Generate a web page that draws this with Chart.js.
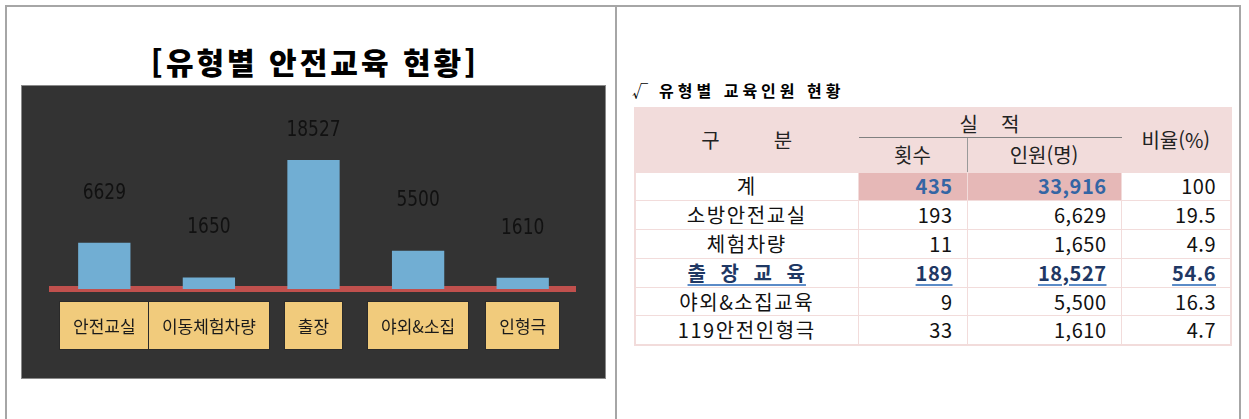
<!DOCTYPE html>
<html lang="ko"><head><meta charset="utf-8">
<script src="https://cdn.jsdelivr.net/npm/chart.js@4.4.1/dist/chart.umd.min.js"></script>
<style>
html,body{margin:0;padding:0;background:#fff;width:1249px;height:419px;overflow:hidden;font-family:"Noto Sans CJK KR",sans-serif;}
#frame{position:absolute;left:5px;top:5px;width:1236px;height:500px;border:2px solid #a6a6a6;box-sizing:border-box;}
#divider{position:absolute;left:615px;top:5px;width:2px;height:420px;background:#a6a6a6;}
#title{position:absolute;left:0;top:42px;width:630px;text-align:center;font-size:30px;font-weight:900;letter-spacing:3px;line-height:38px;color:#000;white-space:nowrap;}
#panel{position:absolute;left:21px;top:85px;width:583px;height:292px;border:1px solid #8a8a8a;background:#333;}
#panel canvas{display:block;}
#subtitle{position:absolute;left:632px;top:79px;font-size:16px;font-weight:700;letter-spacing:4px;line-height:22px;color:#000;white-space:nowrap;}
#subtitle .chk{font-weight:400;letter-spacing:0;margin-right:11px;}
table{position:absolute;left:634px;top:107px;width:596px;border-collapse:collapse;table-layout:fixed;font-size:20px;color:#111;border:2px solid #F2DCDB;}
td,th{padding:0;font-weight:400;line-height:26px;border:1px solid #F2DCDB;white-space:nowrap;overflow:hidden;}
thead th{background:#F2DCDB;text-align:center;color:#222;}
thead tr.h1{height:29px;}
thead tr.h2{height:35px;}
th.sj{border-bottom:1px solid #808080;vertical-align:bottom;}
th.cnt{border-right:1px solid #9a9a9a;}
tbody tr{height:28.8px;}
td.lab{text-align:center;letter-spacing:1.6px;}
td.num{text-align:right;padding-right:14px;letter-spacing:0.5px;}
tr.total td.pk{background:#E6B8B7;color:#3465A4;font-weight:700;}
tr.hl td{color:#1F3864;font-weight:700;}
tr.hl td span{text-decoration:underline;text-decoration-color:#5B8BC7;text-decoration-thickness:2px;text-underline-offset:3px;}
tr.hl td.lab span{word-spacing:7px;letter-spacing:1px;}
.sp{display:inline-block;}
</style></head>
<body>
<div id="frame"></div>
<div id="divider"></div>
<div id="title">[유형별 안전교육 현황]</div>
<div id="panel"><canvas id="c" width="583" height="292"></canvas></div>
<div id="subtitle"><span class="chk">√</span>유형별 교육인원 현황</div>
<table>
<colgroup><col style="width:223px"><col style="width:109px"><col style="width:154px"><col style="width:110px"></colgroup>
<thead>
<tr class="h1"><th rowspan="2">구<span class="sp" style="width:54px"></span>분</th><th colspan="2" class="sj">실<span class="sp" style="width:23px"></span>적</th><th rowspan="2">비율(%)</th></tr>
<tr class="h2"><th class="cnt">횟수</th><th>인원(명)</th></tr>
</thead>
<tbody id="tb"></tbody>
</table>
<script>
// ---- chart data ----
const categories = ['안전교실', '이동체험차량', '출장', '야외&소집', '인형극'];
const values = [6629, 1650, 18527, 5500, 1610];

// ---- table data ----
const rowLabels = ['계', '소방안전교실', '체험차량', '출 장 교 육', '야외&소집교육', '119안전인형극'];
const sessions = [435, 193, 11, 189, 9, 33];
const people = [33916, 6629, 1650, 18527, 5500, 1610];
const ratios = ['100', '19.5', '4.9', '54.6', '16.3', '4.7'];

const TOTAL_ROW = 0, HIGHLIGHT_ROW = 3;
const tb = document.getElementById('tb');
rowLabels.forEach((lab, i) => {
  const tr = document.createElement('tr');
  if (i === TOTAL_ROW) tr.className = 'total';
  if (i === HIGHLIGHT_ROW) tr.className = 'hl';
  const cells = [
    ['lab', lab],
    ['num pk', sessions[i].toLocaleString('en-US')],
    ['num pk', people[i].toLocaleString('en-US')],
    ['num', ratios[i]]
  ];
  cells.forEach(([cls, txt]) => {
    const td = document.createElement('td');
    td.className = (i === TOTAL_ROW) ? cls : cls.replace(' pk', '');
    const sp = document.createElement('span');
    sp.textContent = txt;
    td.appendChild(sp);
    tr.appendChild(td);
  });
  tb.appendChild(tr);
});

// ---- plugins ----
const valueLabels = {
  id: 'valueLabels',
  afterDatasetsDraw(chart) {
    const ctx = chart.ctx;
    const meta = chart.getDatasetMeta(0);
    const top = chart.chartArea.top;
    ctx.save();
    ctx.font = '22px "Liberation Sans Narrow", "DejaVu Sans Condensed", sans-serif';
    ctx.fillStyle = '#111';
    ctx.textAlign = 'center';
    ctx.textBaseline = 'middle';
    const sx = 0.86;
    meta.data.forEach((bar, i) => {
      const y = Math.max(bar.y - 50, top + 15);
      ctx.save();
      ctx.translate(bar.x, y);
      ctx.scale(sx, 1);
      ctx.fillText(String(chart.data.datasets[0].data[i]), 0, 0);
      ctx.restore();
    });
    ctx.restore();
  }
};
const categoryBoxes = {
  id: 'categoryBoxes',
  afterDraw(chart) {
    const ctx = chart.ctx;
    const xs = chart.scales.x;
    const base = chart.chartArea.bottom;
    ctx.save();
    ctx.font = '17px "Noto Sans CJK KR", sans-serif';
    ctx.textAlign = 'center';
    ctx.textBaseline = 'middle';
    chart.data.labels.forEach((lab, i) => {
      const x = xs.getPixelForValue(i);
      const w = Math.round(ctx.measureText(lab).width + 26);
      const x0 = Math.round(x - w / 2);
      const y0 = base + 13, h = 47;
      ctx.strokeStyle = '#2a2a2a';
      ctx.lineWidth = 1;
      ctx.strokeRect(x0 - 0.5, y0 - 0.5, w + 1, h + 1);
      ctx.fillStyle = '#F1CB7C';
      ctx.fillRect(x0, y0, w, h);
      ctx.fillStyle = '#1a1a1a';
      ctx.fillText(lab, x, y0 + h / 2 + 1);
    });
    ctx.restore();
  }
};

new Chart(document.getElementById('c'), {
  type: 'bar',
  data: {
    labels: categories,
    datasets: [{ data: values, backgroundColor: '#71AED3', borderWidth: 0, barPercentage: 0.5, categoryPercentage: 1.0 }]
  },
  options: {
    responsive: false,
    animation: false,
    layout: { padding: { left: 30, right: 30, top: 29, bottom: 89 } },
    plugins: { legend: { display: false }, tooltip: { enabled: false } },
    scales: {
      x: {
        grid: { display: true, color: 'rgba(0,0,0,0)', drawTicks: false, drawOnChartArea: false },
        border: { display: true, color: '#C0504D', width: 6 },
        ticks: { display: false }
      },
      y: { display: false, min: 0, max: 25000 }
    }
  },
  plugins: [valueLabels, categoryBoxes]
});
</script>
</body></html>
